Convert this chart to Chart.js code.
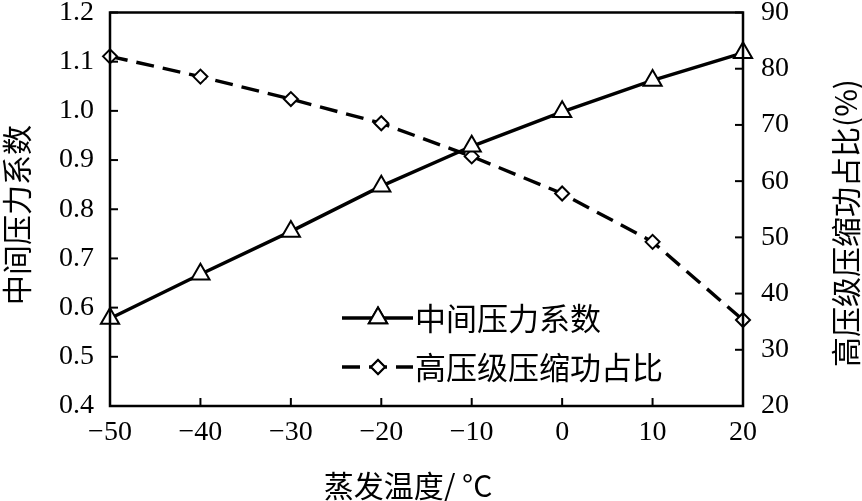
<!DOCTYPE html>
<html>
<head>
<meta charset="utf-8">
<script src="https://cdn.jsdelivr.net/npm/chart.js@4/dist/chart.umd.min.js"></script>
<style>
  html, body { margin: 0; padding: 0; background: #fff; }
  #wrap { width: 862px; height: 501px; }
</style>
</head>
<body>
<div id="wrap"><canvas id="chart" width="862" height="501"></canvas></div>
<script>
// 数据
const temps = [-50, -40, -30, -20, -10, 0, 10, 20];
const pressureCoef = [0.578, 0.668, 0.755, 0.847, 0.928, 0.998, 1.062, 1.118];
const highStageShare = [82.2, 78.6, 74.6, 70.3, 64.4, 57.8, 49.2, 35.3];
const seriesNames = ["中间压力系数", "高压级压缩功占比"];
const xTitle = "蒸发温度/ °C";
const yTitle = "中间压力系数";
const y1Title = "高压级压缩功占比(%)";

const serif = "'Liberation Serif', 'Noto Sans CJK SC', serif";
const cjk = "'Noto Sans CJK SC', 'Liberation Serif', serif";

// 画框、内向刻度、图例和坐标轴标题
const decor = {
  id: "decor",
  afterDraw(chart) {
    const { ctx, chartArea: a, scales } = chart;
    ctx.save();
    ctx.strokeStyle = "#000";
    ctx.lineWidth = 2.5;
    ctx.strokeRect(a.left, a.top, a.right - a.left, a.bottom - a.top);

    ctx.lineWidth = 2;
    const len = 8;
    scales.x.ticks.forEach(t => {
      const px = scales.x.getPixelForValue(t.value);
      ctx.beginPath(); ctx.moveTo(px, a.bottom); ctx.lineTo(px, a.bottom - len); ctx.stroke();
    });
    scales.y.ticks.forEach(t => {
      const py = scales.y.getPixelForValue(t.value);
      ctx.beginPath(); ctx.moveTo(a.left, py); ctx.lineTo(a.left + len, py); ctx.stroke();
    });
    scales.y1.ticks.forEach(t => {
      const py = scales.y1.getPixelForValue(t.value);
      ctx.beginPath(); ctx.moveTo(a.right, py); ctx.lineTo(a.right - len, py); ctx.stroke();
    });

    // 图例
    const rows = [318, 367];
    chart.data.datasets.forEach((ds, i) => {
      const y = rows[i];
      ctx.lineWidth = ds.borderWidth;
      ctx.setLineDash(ds.borderDash || []);
      ctx.beginPath(); ctx.moveTo(342, y); ctx.lineTo(413, y); ctx.stroke();
      ctx.setLineDash([]);
      ctx.lineWidth = ds.pointBorderWidth;
      Chart.helpers.drawPoint(ctx, { pointStyle: ds.pointStyle, radius: ds.pointRadius, rotation: 0, borderWidth: ds.pointBorderWidth }, 378, y);
      ctx.fillStyle = "#fff";
      ctx.fill();
      ctx.stroke();
      ctx.fillStyle = "#000";
      ctx.font = "31px " + cjk;
      ctx.textAlign = "left";
      ctx.textBaseline = "middle";
      ctx.fillText(ds.label, 415, y);
    });

    ctx.fillStyle = "#000";
    ctx.textAlign = "center";
    ctx.textBaseline = "middle";
    ctx.font = "30px " + cjk;

    // 左侧标题
    ctx.save();
    ctx.translate(17, 215);
    ctx.rotate(-Math.PI / 2);
    ctx.fillText(yTitle, 0, 0);
    ctx.restore();

    // 右侧标题
    ctx.save();
    ctx.translate(846, 223);
    ctx.rotate(-Math.PI / 2);
    ctx.fillText(y1Title, 0, 0);
    ctx.restore();

    // 底部标题
    ctx.fillText(xTitle, 408, 486);
    ctx.restore();
  }
};

const minus = v => String(v).replace("-", "\u2212");
const noPad = s => { s.paddingTop = 0; s.paddingBottom = 0; };

new Chart(document.getElementById("chart"), {
  type: "line",
  data: {
    datasets: [
      {
        label: seriesNames[0],
        data: temps.map((t, i) => ({ x: t, y: pressureCoef[i] })),
        yAxisID: "y",
        borderColor: "#000",
        borderWidth: 3.4,
        pointStyle: "triangle",
        pointRadius: 10.5,
        pointBorderWidth: 2,
        pointBackgroundColor: "#fff",
        pointBorderColor: "#000",
        clip: false,
      },
      {
        label: seriesNames[1],
        data: temps.map((t, i) => ({ x: t, y: highStageShare[i] })),
        yAxisID: "y1",
        borderColor: "#000",
        borderWidth: 3.4,
        borderDash: [18, 9],
        pointStyle: "rectRot",
        pointRadius: 7,
        pointBorderWidth: 2,
        pointBackgroundColor: "#fff",
        pointBorderColor: "#000",
        clip: false,
      },
    ],
  },
  options: {
    responsive: false,
    animation: false,
    layout: { padding: { top: 8, left: 0, right: 0, bottom: 0 } },
    plugins: { legend: { display: false }, tooltip: { enabled: false } },
    scales: {
      x: {
        type: "linear",
        min: -50, max: 20,
        afterFit: s => { s.height = 95; s.paddingLeft = 0; s.paddingRight = 0; },
        grid: { display: false, drawTicks: false },
        border: { display: false },
        ticks: {
          stepSize: 10, padding: 10, color: "#000",
          font: { family: serif, size: 28 },
          callback: v => minus(v),
        },
      },
      y: {
        position: "left",
        min: 0.4, max: 1.2,
        afterFit: s => { s.width = 110; noPad(s); },
        grid: { display: false, drawTicks: false },
        border: { display: false },
        ticks: {
          stepSize: 0.1, padding: 16, color: "#000",
          font: { family: serif, size: 28 },
          callback: v => v.toFixed(1),
        },
      },
      y1: {
        position: "right",
        min: 20, max: 90,
        afterFit: s => { s.width = 119; noPad(s); },
        grid: { display: false, drawTicks: false },
        border: { display: false },
        ticks: {
          stepSize: 10, padding: 18, color: "#000",
          font: { family: serif, size: 28 },
        },
      },
    },
  },
  plugins: [decor],
});
</script>
</body>
</html>
